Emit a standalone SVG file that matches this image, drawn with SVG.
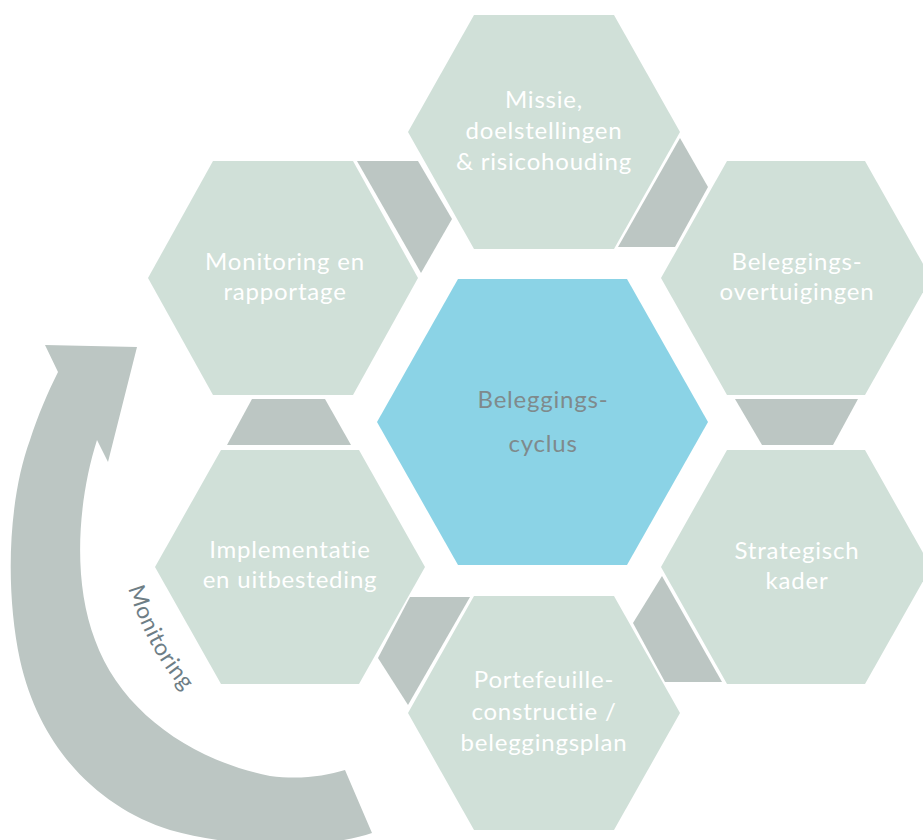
<svg xmlns="http://www.w3.org/2000/svg" width="923" height="840" viewBox="0 0 923 840">
<style>
.hex{fill:#D0E0D8}
.core{fill:#8BD3E6}
.con{fill:#BCC6C3}
.lbl{font-family:Lato,"Liberation Sans",sans-serif;font-size:24px;letter-spacing:0.8px;fill:#FFFFFF;text-anchor:middle}
.clbl{font-family:Lato,"Liberation Sans",sans-serif;font-size:24px;letter-spacing:0.8px;fill:#7F8A8C;text-anchor:middle}
.mlbl{font-family:Lato,"Liberation Sans",sans-serif;font-size:23px;letter-spacing:0.6px;fill:#6E7E86}
</style>
<defs>
<path id="mpath" d="M128,588 Q150,660 196,704"/>
</defs>
<rect width="923" height="840" fill="#FFFFFF"/>
<g id="connectors">
<path class="con" d="M45,345 L137,347 L108,462 L97,440 C78,500 72,580 95,640 C120,710 190,760 270,776 C300,780 325,776 345,770 L372,833 C330,848 240,850 170,830 C100,808 40,750 20,660 C5,590 8,500 30,440 C38,415 48,392 58,372 Z"/>
<polygon class="con" points="357,161 418,161 452,219 421,273"/>
<polygon class="con" points="680,138 708,187 675,247 618,247"/>
<polygon class="con" points="735,399 858,399 833,445 762,445"/>
<polygon class="con" points="662,576 633,623 665,682 722,682"/>
<polygon class="con" points="410,597 470,597 408,705 378,658"/>
<polygon class="con" points="252,399 325,399 351,445 227,445"/>
<text class="mlbl"><textPath href="#mpath">Monitoring</textPath></text>
</g>
<g id="node-missie">
<polygon class="hex" points="408,132 474,15 614,15 680,132 614,249 474,249"/>
<text class="lbl" x="544" y="108">Missie,</text>
<text class="lbl" x="544" y="139">doelstellingen</text>
<text class="lbl" x="544" y="170">&amp; risicohouding</text>
</g>
<g id="node-monitoring">
<polygon class="hex" points="148,278 213,161 353,161 418,278 353,395 213,395"/>
<text class="lbl" x="285" y="270">Monitoring en</text>
<text class="lbl" x="285" y="300">rapportage</text>
</g>
<g id="node-overtuigingen">
<polygon class="hex" points="661,278 727,161 865,161 931,278 865,395 727,395"/>
<text class="lbl" x="797" y="270">Beleggings-</text>
<text class="lbl" x="797" y="300">overtuigingen</text>
</g>
<g id="node-center">
<polygon class="core" points="377,422 458,279 627,279 708,422 627,565 458,565"/>
<text class="clbl" x="543" y="408">Beleggings-</text>
<text class="clbl" x="543" y="452">cyclus</text>
</g>
<g id="node-implementatie">
<polygon class="hex" points="155,567 221,450 359,450 425,567 359,684 221,684"/>
<text class="lbl" x="290" y="558">Implementatie</text>
<text class="lbl" x="290" y="588">en uitbesteding</text>
</g>
<g id="node-strategisch">
<polygon class="hex" points="661,567 727,450 865,450 931,567 865,684 727,684"/>
<text class="lbl" x="797" y="559">Strategisch</text>
<text class="lbl" x="797" y="589">kader</text>
</g>
<g id="node-portefeuille">
<polygon class="hex" points="408,713 474,596 614,596 680,713 614,830 474,830"/>
<text class="lbl" x="544" y="688">Portefeuille-</text>
<text class="lbl" x="544" y="720">constructie /</text>
<text class="lbl" x="544" y="751">beleggingsplan</text>
</g>
</svg>
